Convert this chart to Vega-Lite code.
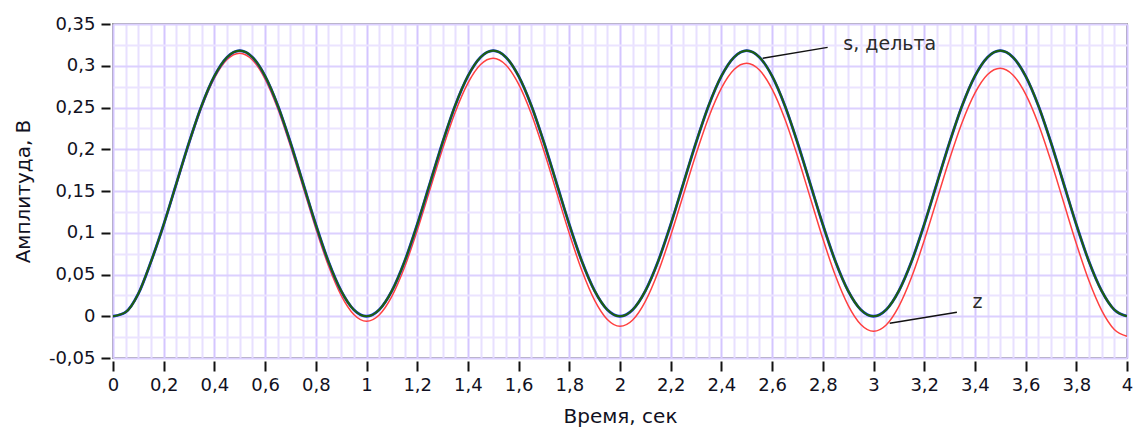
{
  "$schema": "https://vega.github.io/schema/vega-lite/v6.json",
  "width": 1014,
  "height": 334,
  "autosize": {"type": "none"},
  "padding": {"left": 113, "top": 24, "right": 7, "bottom": 77},
  "background": "#ffffff",
  "config": {
    "view": {"stroke": "#9a9a9a", "strokeWidth": 2},
    "font": "DejaVu Sans"
  },
  "resolve": {"axis": {"x": "independent", "y": "independent"}},
  "datasets": {
    "signals": [
      {"t":0,"s":0,"d":0,"z":0},
      {"t":0.05,"s":0.005,"d":0.005,"z":0.0047},
      {"t":0.1,"s":0.027,"d":0.027,"z":0.0264},
      {"t":0.15,"s":0.0655,"d":0.0655,"z":0.0646},
      {"t":0.2,"s":0.1099,"d":0.1099,"z":0.1087},
      {"t":0.25,"s":0.159,"d":0.159,"z":0.1575},
      {"t":0.3,"s":0.2081,"d":0.2081,"z":0.2063},
      {"t":0.35,"s":0.2525,"d":0.2525,"z":0.2504},
      {"t":0.4,"s":0.2876,"d":0.2876,"z":0.2852},
      {"t":0.45,"s":0.3102,"d":0.3102,"z":0.3075},
      {"t":0.5,"s":0.318,"d":0.318,"z":0.315},
      {"t":0.55,"s":0.3102,"d":0.3102,"z":0.3069},
      {"t":0.6,"s":0.2876,"d":0.2876,"z":0.284},
      {"t":0.65,"s":0.2525,"d":0.2525,"z":0.2486},
      {"t":0.7,"s":0.2081,"d":0.2081,"z":0.2039},
      {"t":0.75,"s":0.159,"d":0.159,"z":0.1545},
      {"t":0.8,"s":0.1099,"d":0.1099,"z":0.1051},
      {"t":0.85,"s":0.0655,"d":0.0655,"z":0.0604},
      {"t":0.9,"s":0.0304,"d":0.0304,"z":0.025},
      {"t":0.95,"s":0.0078,"d":0.0078,"z":0.0021},
      {"t":1,"s":0,"d":0,"z":-0.006},
      {"t":1.05,"s":0.0078,"d":0.0078,"z":0.0015},
      {"t":1.1,"s":0.0304,"d":0.0304,"z":0.0238},
      {"t":1.15,"s":0.0655,"d":0.0655,"z":0.0586},
      {"t":1.2,"s":0.1099,"d":0.1099,"z":0.1027},
      {"t":1.25,"s":0.159,"d":0.159,"z":0.1515},
      {"t":1.3,"s":0.2081,"d":0.2081,"z":0.2003},
      {"t":1.35,"s":0.2525,"d":0.2525,"z":0.2444},
      {"t":1.4,"s":0.2876,"d":0.2876,"z":0.2792},
      {"t":1.45,"s":0.3102,"d":0.3102,"z":0.3015},
      {"t":1.5,"s":0.318,"d":0.318,"z":0.309},
      {"t":1.55,"s":0.3102,"d":0.3102,"z":0.3009},
      {"t":1.6,"s":0.2876,"d":0.2876,"z":0.278},
      {"t":1.65,"s":0.2525,"d":0.2525,"z":0.2426},
      {"t":1.7,"s":0.2081,"d":0.2081,"z":0.1979},
      {"t":1.75,"s":0.159,"d":0.159,"z":0.1485},
      {"t":1.8,"s":0.1099,"d":0.1099,"z":0.0991},
      {"t":1.85,"s":0.0655,"d":0.0655,"z":0.0544},
      {"t":1.9,"s":0.0304,"d":0.0304,"z":0.019},
      {"t":1.95,"s":0.0078,"d":0.0078,"z":-0.0039},
      {"t":2,"s":0,"d":0,"z":-0.012},
      {"t":2.05,"s":0.0078,"d":0.0078,"z":-0.0045},
      {"t":2.1,"s":0.0304,"d":0.0304,"z":0.0178},
      {"t":2.15,"s":0.0655,"d":0.0655,"z":0.0526},
      {"t":2.2,"s":0.1099,"d":0.1099,"z":0.0967},
      {"t":2.25,"s":0.159,"d":0.159,"z":0.1455},
      {"t":2.3,"s":0.2081,"d":0.2081,"z":0.1943},
      {"t":2.35,"s":0.2525,"d":0.2525,"z":0.2384},
      {"t":2.4,"s":0.2876,"d":0.2876,"z":0.2732},
      {"t":2.45,"s":0.3102,"d":0.3102,"z":0.2955},
      {"t":2.5,"s":0.318,"d":0.318,"z":0.303},
      {"t":2.55,"s":0.3102,"d":0.3102,"z":0.2949},
      {"t":2.6,"s":0.2876,"d":0.2876,"z":0.272},
      {"t":2.65,"s":0.2525,"d":0.2525,"z":0.2366},
      {"t":2.7,"s":0.2081,"d":0.2081,"z":0.1919},
      {"t":2.75,"s":0.159,"d":0.159,"z":0.1425},
      {"t":2.8,"s":0.1099,"d":0.1099,"z":0.0931},
      {"t":2.85,"s":0.0655,"d":0.0655,"z":0.0484},
      {"t":2.9,"s":0.0304,"d":0.0304,"z":0.013},
      {"t":2.95,"s":0.0078,"d":0.0078,"z":-0.0099},
      {"t":3,"s":0,"d":0,"z":-0.018},
      {"t":3.05,"s":0.0078,"d":0.0078,"z":-0.0105},
      {"t":3.1,"s":0.0304,"d":0.0304,"z":0.0118},
      {"t":3.15,"s":0.0655,"d":0.0655,"z":0.0466},
      {"t":3.2,"s":0.1099,"d":0.1099,"z":0.0907},
      {"t":3.25,"s":0.159,"d":0.159,"z":0.1395},
      {"t":3.3,"s":0.2081,"d":0.2081,"z":0.1883},
      {"t":3.35,"s":0.2525,"d":0.2525,"z":0.2324},
      {"t":3.4,"s":0.2876,"d":0.2876,"z":0.2672},
      {"t":3.45,"s":0.3102,"d":0.3102,"z":0.2895},
      {"t":3.5,"s":0.318,"d":0.318,"z":0.297},
      {"t":3.55,"s":0.3102,"d":0.3102,"z":0.2889},
      {"t":3.6,"s":0.2876,"d":0.2876,"z":0.266},
      {"t":3.65,"s":0.2525,"d":0.2525,"z":0.2306},
      {"t":3.7,"s":0.2081,"d":0.2081,"z":0.1859},
      {"t":3.75,"s":0.159,"d":0.159,"z":0.1365},
      {"t":3.8,"s":0.1099,"d":0.1099,"z":0.0871},
      {"t":3.85,"s":0.0655,"d":0.0655,"z":0.0424},
      {"t":3.9,"s":0.0304,"d":0.0304,"z":0.007},
      {"t":3.95,"s":0.0078,"d":0.0078,"z":-0.0159},
      {"t":4,"s":0,"d":0,"z":-0.024}
    ],
    "notes": [
      {"label":"s, дельта","x1":2.563,"y1":0.309,"x2":2.819,"y2":0.322,"tx":2.881,"ty":0.3258},
      {"label":"z","x1":3.064,"y1":-0.0084,"x2":3.329,"y2":0.0048,"tx":3.391,"ty":0.0169}
    ]
  },
  "layer": [
    {
      "data": {"name": "signals"},
      "mark": {"type": "line", "opacity": 0, "clip": true},
      "encoding": {
        "x": {
          "field": "t", "type": "quantitative",
          "scale": {"domain": [0, 4], "nice": false, "zero": false},
          "axis": {
            "orient": "bottom",
            "title": null,
            "values": [0.05,0.1,0.15,0.25,0.3,0.35,0.45,0.5,0.55,0.65,0.7,0.75,0.85,0.9,0.95,1.05,1.1,1.15,1.25,1.3,1.35,1.45,1.5,1.55,1.65,1.7,1.75,1.85,1.9,1.95,2.05,2.1,2.15,2.25,2.3,2.35,2.45,2.5,2.55,2.65,2.7,2.75,2.85,2.9,2.95,3.05,3.1,3.15,3.25,3.3,3.35,3.45,3.5,3.55,3.65,3.7,3.75,3.85,3.9,3.95],
            "labels": false,
            "ticks": false,
            "domain": false,
            "grid": true,
            "gridColor": "#e8e0ff",
            "gridWidth": 2,
            "gridOpacity": 1
          }
        },
        "y": {
          "field": "z", "type": "quantitative",
          "scale": {"domain": [-0.05, 0.35], "nice": false, "zero": false},
          "axis": {
            "orient": "left",
            "title": null,
            "values": [-0.025,0.025,0.075,0.125,0.175,0.225,0.275,0.325],
            "labels": false,
            "ticks": false,
            "domain": false,
            "grid": true,
            "gridColor": "#ebe4ff",
            "gridWidth": 2,
            "gridOpacity": 1
          }
        }
      }
    },
    {
      "data": {"name": "signals"},
      "mark": {"type": "line", "color": "#ff4040", "strokeWidth": 1.5, "interpolate": "monotone", "clip": true},
      "encoding": {
        "x": {
          "field": "t", "type": "quantitative",
          "axis": {
            "orient": "bottom",
            "title": "Время, сек",
            "values": [0,0.2,0.4,0.6,0.8,1,1.2,1.4,1.6,1.8,2,2.2,2.4,2.6,2.8,3,3.2,3.4,3.6,3.8,4],
            "labelExpr": "replace(format(datum.value, '.1~f'), '.', ',')",
            "grid": true,
            "gridColor": "#d4c5ff",
            "gridWidth": 2,
            "gridOpacity": 1,
            "domain": false,
            "tickColor": "#111111",
            "tickWidth": 2,
            "tickSize": 10,
            "offset": 3,
            "labelFont": "DejaVu Sans",
            "labelFontSize": 18,
            "labelColor": "#111122",
            "labelPadding": 5,
            "labelOverlap": false,
            "labelFlush": false,
            "titleFont": "DejaVu Sans",
            "titleFontSize": 20,
            "titleFontWeight": "normal",
            "titleColor": "#111122",
            "titlePadding": 12
          }
        },
        "y": {
          "field": "z", "type": "quantitative",
          "axis": {
            "orient": "left",
            "title": "Амплитуда, В",
            "values": [-0.05,0,0.05,0.1,0.15,0.2,0.25,0.3,0.35],
            "labelExpr": "replace(replace(format(datum.value, '.2~f'), '.', ','), '\u2212', '-')",
            "grid": true,
            "gridColor": "#dcd0ff",
            "gridWidth": 2,
            "gridOpacity": 1,
            "domain": false,
            "tickColor": "#111111",
            "tickWidth": 2,
            "tickSize": 9,
            "offset": 3,
            "labelFont": "DejaVu Sans",
            "labelFontSize": 18,
            "labelColor": "#111122",
            "labelPadding": 6,
            "labelOverlap": false,
            "labelFlush": false,
            "titleFont": "DejaVu Sans",
            "titleFontSize": 20,
            "titleFontWeight": "normal",
            "titleColor": "#111122",
            "titlePadding": 15
          }
        }
      }
    },
    {
      "data": {"name": "signals"},
      "mark": {"type": "line", "color": "#1a3cff", "strokeWidth": 2.8, "interpolate": "monotone", "clip": true},
      "encoding": {
        "x": {"field": "t", "type": "quantitative", "axis": null},
        "y": {"field": "s", "type": "quantitative", "axis": null}
      }
    },
    {
      "data": {"name": "notes"},
      "mark": {"type": "rule", "color": "#111111", "strokeWidth": 1.5},
      "encoding": {
        "x": {"field": "x1", "type": "quantitative", "axis": null},
        "y": {"field": "y1", "type": "quantitative", "axis": null},
        "x2": {"field": "x2"},
        "y2": {"field": "y2"}
      }
    },
    {
      "data": {"name": "signals"},
      "mark": {"type": "line", "color": "#1e5e12", "strokeWidth": 2.2, "interpolate": "monotone", "clip": true},
      "encoding": {
        "x": {"field": "t", "type": "quantitative", "axis": null},
        "y": {"field": "d", "type": "quantitative", "axis": null}
      }
    },
    {
      "data": {"name": "notes"},
      "mark": {"type": "text", "align": "left", "baseline": "middle", "font": "DejaVu Sans", "fontSize": 19, "color": "#2a2a2a"},
      "encoding": {
        "x": {"field": "tx", "type": "quantitative", "axis": null},
        "y": {"field": "ty", "type": "quantitative", "axis": null},
        "text": {"field": "label"}
      }
    }
  ]
}
